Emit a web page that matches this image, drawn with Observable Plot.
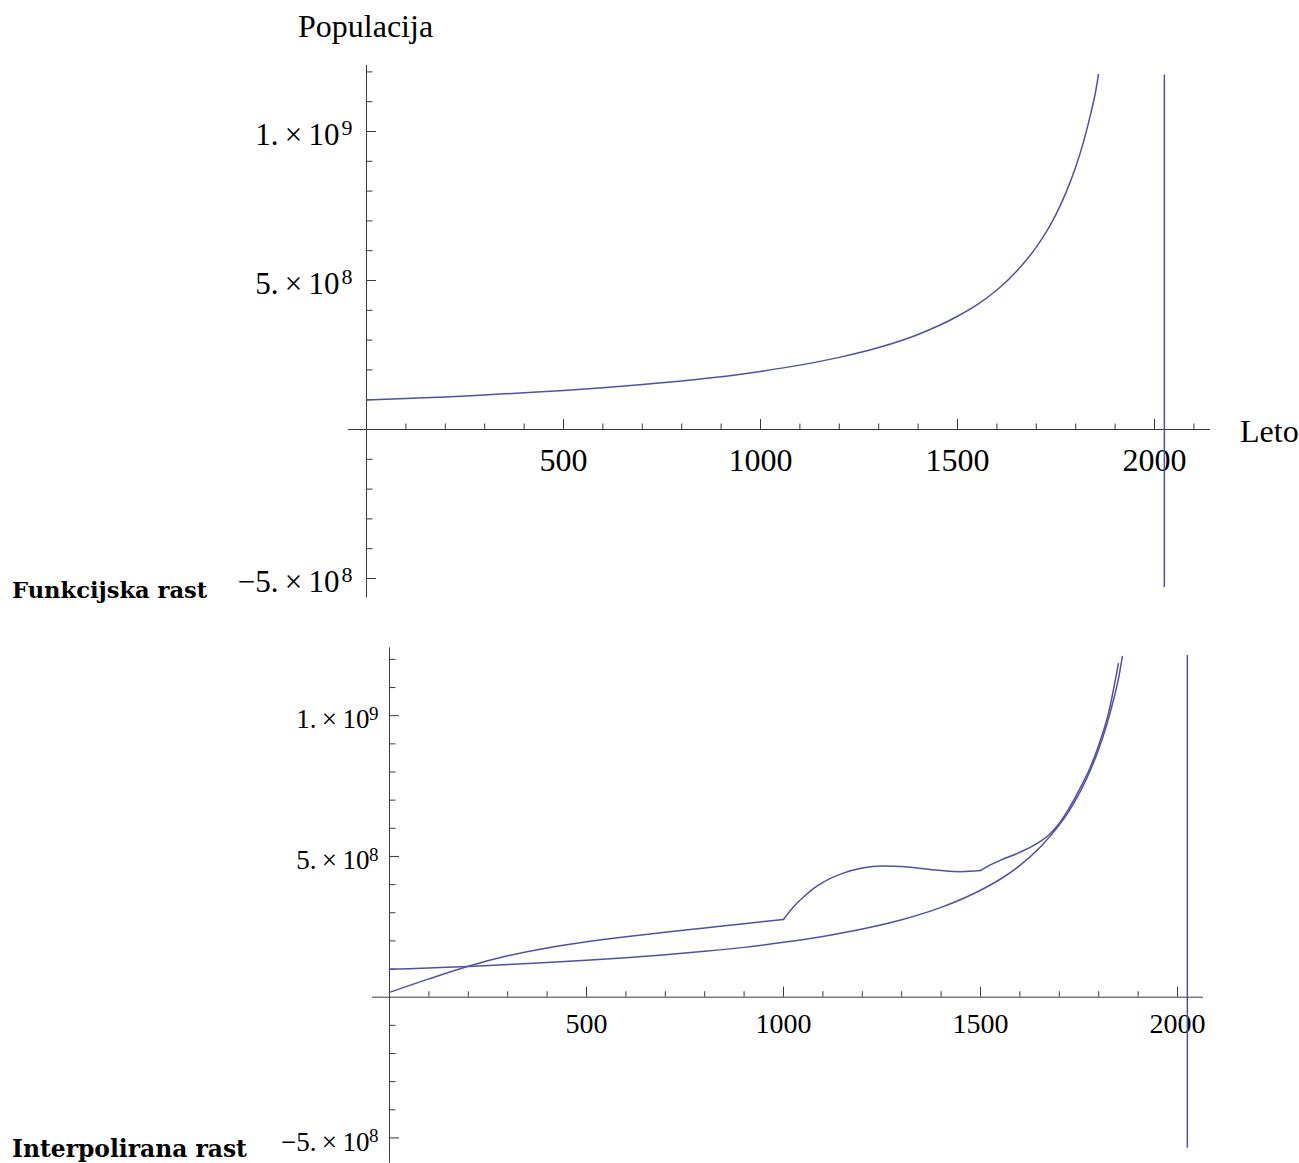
<!DOCTYPE html>
<html>
<head>
<meta charset="utf-8">
<script src="https://cdn.jsdelivr.net/npm/d3@7"></script>
<script src="https://cdn.jsdelivr.net/npm/@observablehq/plot@0.6"></script>
<style>
  body { margin: 0; background: #fff; }
  #wrap { position: relative; width: 1299px; height: 1163px; overflow: hidden; background: #fff; }
  #wrap svg { display: block; }
  .lbl { position: absolute; white-space: nowrap; line-height: 1; color: #000; }
  .axlbl { font-family: "Liberation Serif", "Times New Roman", serif; font-size: 32px; }
  .panel { font-family: "DejaVu Serif", serif; font-weight: bold; }
</style>
</head>
<body>
<div id="wrap"></div>
<script>
// ---- data ----
// hyperbolic ("functional") growth, year -> population
const funkYears  = [0, 100, 200, 300, 400, 500, 600, 700, 800, 900, 1000, 1100, 1200, 1300, 1400, 1500, 1550, 1600, 1650, 1700, 1725, 1750, 1775, 1800, 1820, 1840, 1850, 1860];
const funkValues = [0.99e8, 1.04e8, 1.09e8, 1.16e8, 1.23e8, 1.31e8, 1.40e8, 1.51e8, 1.63e8, 1.77e8, 1.95e8, 2.16e8, 2.42e8, 2.75e8, 3.19e8, 3.80e8, 4.19e8, 4.68e8, 5.31e8, 6.12e8, 6.62e8, 7.22e8, 7.94e8, 8.81e8, 9.66e8, 10.7e8, 11.3e8, 12.1e8];

// interpolated growth, three pieces (kinks at 1000 and 1500)
const interpYearsA  = [0, 100, 200, 300, 400, 500, 600, 700, 800, 900, 1000];
const interpValuesA = [0.17e8, 0.65e8, 1.10e8, 1.47e8, 1.75e8, 1.97e8, 2.15e8, 2.31e8, 2.46e8, 2.61e8, 2.76e8];
const interpYearsB  = [1000, 1025, 1050, 1075, 1100, 1150, 1200, 1250, 1300, 1350, 1400, 1450, 1500];
const interpValuesB = [2.76e8, 3.20e8, 3.55e8, 3.85e8, 4.08e8, 4.40e8, 4.59e8, 4.66e8, 4.64e8, 4.57e8, 4.50e8, 4.46e8, 4.50e8];
const interpYearsC  = [1500, 1525, 1550, 1600, 1650, 1675, 1700, 1725, 1750, 1775, 1800, 1825, 1850];
const interpValuesC = [4.50e8, 4.70e8, 4.86e8, 5.15e8, 5.52e8, 5.78e8, 6.18e8, 6.72e8, 7.35e8, 8.05e8, 8.95e8, 10.1e8, 11.85e8];

const asymptoteYear = 2025;

// tick labels
const xLabelValues = [500, 1000, 1500, 2000];
const yLabelValues = [1e9, 5e8, -5e8];
const yLabelMantissas = ["1.", "5.", "\u22125."];
const yLabelExponents = ["9", "8", "8"];

// ---- build tables ----
const funkTable = funkYears.map((t, i) => ({t, p: funkValues[i]}));
const interpTable = [
  ...interpYearsA.map((t, i) => ({t, p: interpValuesA[i], seg: "A"})),
  ...interpYearsB.map((t, i) => ({t, p: interpValuesB[i], seg: "B"})),
  ...interpYearsC.map((t, i) => ({t, p: interpValuesC[i], seg: "C"}))
];
const yLabelTable = yLabelValues.map((v, i) => ({v, m: yLabelMantissas[i], e: yLabelExponents[i]}));

const LINE = "#5050ab";
const AXIS = "#3a3a3a";
const SERIF = "Liberation Serif, Times New Roman, serif";

function makePanel(cfg) {
  const pxYear = (cfg.xRange[1] - cfg.xRange[0]) / 2000;
  const pxUnit = (cfg.yZero - cfg.yOne) / 1e9;
  const xTicks = d3.range(100, cfg.xTickMax + 1, 100);
  const yTicks = d3.range(-5, 13).filter(k => k !== 0).map(k => k * 1e8);
  const marks = [
    Plot.ruleY([0], {x1: () => cfg.xAxis[0], x2: () => cfg.xAxis[1], stroke: AXIS, strokeWidth: 1}),
    Plot.ruleX([0], {y1: () => cfg.yAxis[0], y2: () => cfg.yAxis[1], stroke: AXIS, strokeWidth: 1}),
    Plot.ruleX(xTicks, {x: d => d, y1: () => 0, y2: d => (d % 500 === 0 ? 10 : 5.5) / pxUnit, stroke: AXIS, strokeWidth: 1}),
    Plot.ruleY(yTicks, {y: d => d, x1: () => 0, x2: d => (d % 5e8 === 0 ? 10 : 6.5) / pxYear, stroke: AXIS, strokeWidth: 1}),
    Plot.text(xLabelValues, {x: d => d, y: () => 0, text: d => String(d), textAnchor: "middle", lineAnchor: "middle",
      dy: cfg.xLabelDy, fontSize: cfg.xLabelSize, fontFamily: SERIF, fill: "#000"}),
    Plot.text(yLabelTable, {x: () => 0, y: "v", text: d => d.m + "\u2009\u00d7\u200910", textAnchor: "end", lineAnchor: "middle",
      dx: cfg.yMainDx, dy: cfg.yMainDy, fontSize: cfg.yMainSize, fontFamily: SERIF, fill: "#000"}),
    Plot.text(yLabelTable, {x: () => 0, y: "v", text: "e", textAnchor: "end", lineAnchor: "middle",
      dx: cfg.ySupDx, dy: cfg.ySupDy, fontSize: cfg.ySupSize, fontFamily: SERIF, fill: "#000"}),
    Plot.ruleX([asymptoteYear], {x: d => d, y1: () => cfg.vline[0], y2: () => cfg.vline[1], stroke: LINE, strokeWidth: 1.5}),
    Plot.line(funkTable, {x: "t", y: "p", curve: "monotone-x", stroke: LINE, strokeWidth: 1.5, clip: true})
  ];
  if (cfg.withInterp) {
    marks.push(Plot.line(interpTable, {x: "t", y: "p", z: "seg", curve: "monotone-x", stroke: LINE, strokeWidth: 1.5, clip: true}));
  }
  return Plot.plot({
    width: 1299,
    height: cfg.height,
    marginTop: cfg.clipTop, marginLeft: 0, marginRight: 0, marginBottom: 0,
    x: {type: "linear", domain: [0, 2000], range: cfg.xRange, axis: null},
    y: {type: "linear", domain: [0, 1e9], range: [cfg.yZero, cfg.yOne], axis: null},
    style: {background: "transparent", overflow: "visible"},
    marks
  });
}

const wrapEl = document.getElementById("wrap");

const topPanel = makePanel({
  height: 610,
  xRange: [366, 1154], yZero: 429, yOne: 131,
  clipTop: 74,
  xAxis: [-46, 2142], yAxis: [-5.64e8, 1.222e9], xTickMax: 2100,
  vline: [-5.3e8, 1.19e9],
  xLabelDy: 31.5, xLabelSize: 32,
  yMainDx: -27, yMainDy: 4, yMainSize: 31,
  ySupDx: -14, ySupDy: -4, ySupSize: 22,
  withInterp: false
});
const bottomPanel = makePanel({
  height: 553,
  xRange: [389, 1177], yZero: 386.7, yOne: 105.2,
  clipTop: 0,
  xAxis: [-43, 2066], yAxis: [-5.9e8, 1.241e9], xTickMax: 2000,
  vline: [-5.37e8, 1.214e9],
  xLabelDy: 27, xLabelSize: 28,
  yMainDx: -20, yMainDy: 4, yMainSize: 27,
  ySupDx: -11, ySupDy: -2, ySupSize: 19,
  withInterp: true
});
wrapEl.appendChild(topPanel);
wrapEl.appendChild(bottomPanel);

function addLabel(text, cls, left, topPx, size) {
  const d = document.createElement("div");
  d.className = "lbl " + cls;
  d.textContent = text;
  d.style.left = left + "px";
  d.style.top = topPx + "px";
  if (size) d.style.fontSize = size + "px";
  wrapEl.appendChild(d);
}
addLabel("Populacija", "axlbl", 298, 10);
addLabel("Leto", "axlbl", 1240, 415);
addLabel("Funkcijska rast", "panel", 12, 579, 22.6);
addLabel("Interpolirana rast", "panel", 12, 1138, 23.4);
</script>
</body>
</html>
